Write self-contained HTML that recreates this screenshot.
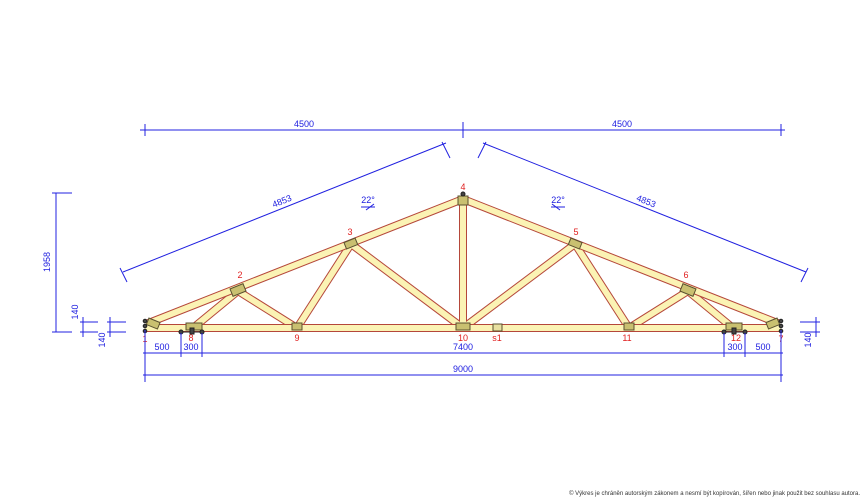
<!DOCTYPE html>
<html><head><meta charset="utf-8"><style>
html,body{margin:0;padding:0;background:#fff;}
svg{display:block;font-family:"Liberation Sans",sans-serif;}
</style></head><body>
<svg width="866" height="500" viewBox="0 0 866 500" xmlns="http://www.w3.org/2000/svg">
<g stroke-linecap="butt">
<g stroke="#b5473a" stroke-width="8">
<line x1="193" y1="328" x2="238" y2="291"/><line x1="238" y1="291" x2="297" y2="328"/>
<line x1="297" y1="328" x2="351" y2="244"/><line x1="351" y1="244" x2="463" y2="328"/>
<line x1="463" y1="200" x2="463" y2="328"/><line x1="463" y1="328" x2="575" y2="244"/>
<line x1="575" y1="244" x2="629" y2="328"/><line x1="629" y1="328" x2="688" y2="291"/>
<line x1="688" y1="291" x2="733" y2="328"/>
</g>
<g stroke="#fbf3b4" stroke-width="6">
<line x1="193" y1="328" x2="238" y2="291"/><line x1="238" y1="291" x2="297" y2="328"/>
<line x1="297" y1="328" x2="351" y2="244"/><line x1="351" y1="244" x2="463" y2="328"/>
<line x1="463" y1="200" x2="463" y2="328"/><line x1="463" y1="328" x2="575" y2="244"/>
<line x1="575" y1="244" x2="629" y2="328"/><line x1="629" y1="328" x2="688" y2="291"/>
<line x1="688" y1="291" x2="733" y2="328"/>
</g>
<g stroke="#b5473a" stroke-width="8">
<line x1="145" y1="328" x2="781" y2="328"/>
<polyline points="146,324 463,199 780,324" fill="none" stroke-linejoin="miter"/>
</g>
<g stroke="#fbf3b4" stroke-width="6">
<line x1="145" y1="328" x2="781" y2="328"/>
<polyline points="146,324 463,199 780,324" fill="none" stroke-linejoin="miter"/>
</g>
</g>
<!-- plates -->
<g fill="#c9c070" stroke="#5a5030" stroke-width="1">
<rect x="231" y="286" width="14" height="8" transform="rotate(-22 238 290)"/>
<rect x="345" y="240" width="12" height="7" transform="rotate(-22 351 244)"/>
<rect x="458" y="196" width="10" height="9"/>
<rect x="569" y="240" width="12" height="7" transform="rotate(22 575 244)"/>
<rect x="681" y="286" width="14" height="8" transform="rotate(22 688 290)"/>
<rect x="292" y="323" width="10" height="7"/>
<rect x="456" y="323" width="14" height="7"/>
<rect x="624" y="323" width="10" height="7"/>
<rect x="147" y="320" width="12" height="7" transform="rotate(22 153 324)"/>
<rect x="767" y="320" width="12" height="7" transform="rotate(-22 773 324)"/>
<rect x="186" y="323" width="16" height="7"/>
<rect x="726" y="323" width="16" height="7"/>
<rect x="493" y="324" width="9" height="7" fill="#e8e0a0"/>
</g>
<!-- supports -->
<g stroke="#222" fill="#444">
<line x1="181" y1="332" x2="202" y2="332"/><circle cx="181" cy="332" r="2"/><circle cx="202" cy="332" r="2"/>
<rect x="190" y="328" width="4" height="6"/>
<line x1="724" y1="332" x2="745" y2="332"/><circle cx="724" cy="332" r="2"/><circle cx="745" cy="332" r="2"/>
<rect x="732" y="328" width="4" height="6"/>
<circle cx="145" cy="321" r="1.8"/><circle cx="145" cy="326" r="1.8"/><circle cx="145" cy="331" r="1.8"/>
<circle cx="781" cy="321" r="1.8"/><circle cx="781" cy="326" r="1.8"/><circle cx="781" cy="331" r="1.8"/>
<circle cx="463" cy="194" r="2"/>
</g>
<!-- node labels -->
<g fill="#e02020" font-size="9" text-anchor="middle">
<text x="145" y="342">1</text><text x="240" y="278">2</text><text x="350" y="235">3</text>
<text x="463" y="190">4</text><text x="576" y="235">5</text><text x="686" y="278">6</text>
<text x="781" y="342">7</text><text x="191" y="341">8</text><text x="297" y="341">9</text>
<text x="463" y="341">10</text><text x="497" y="341">s1</text><text x="627" y="341">11</text><text x="736" y="341">12</text>
</g>
<!-- dimensions -->
<g stroke="#2020e0" stroke-width="1" fill="none">
<line x1="140" y1="130" x2="785" y2="130"/>
<line x1="145" y1="124" x2="145" y2="136"/><line x1="463" y1="122" x2="463" y2="138"/><line x1="781" y1="124" x2="781" y2="136"/>
<line x1="123" y1="272" x2="446" y2="143"/><line x1="442" y1="142" x2="450" y2="158"/><line x1="120" y1="268" x2="127" y2="282"/>
<line x1="483" y1="143" x2="806" y2="272"/><line x1="486" y1="142" x2="478" y2="158"/><line x1="808" y1="268" x2="801" y2="282"/>
<line x1="56" y1="193" x2="56" y2="332"/><line x1="52" y1="193" x2="72" y2="193"/><line x1="52" y1="332" x2="72" y2="332"/>
<line x1="80" y1="322" x2="98" y2="322"/><line x1="80" y1="332" x2="98" y2="332"/><line x1="83" y1="317" x2="83" y2="337"/>
<line x1="107" y1="322" x2="126" y2="322"/><line x1="107" y1="332" x2="126" y2="332"/><line x1="110" y1="317" x2="110" y2="337"/>
<line x1="800" y1="322" x2="820" y2="322"/><line x1="800" y1="332" x2="820" y2="332"/><line x1="816" y1="317" x2="816" y2="337"/>
<line x1="143" y1="353" x2="783" y2="353"/>
<line x1="145" y1="330" x2="145" y2="382"/><line x1="181" y1="333" x2="181" y2="357"/><line x1="202" y1="333" x2="202" y2="357"/>
<line x1="724" y1="333" x2="724" y2="357"/><line x1="745" y1="333" x2="745" y2="357"/><line x1="781" y1="330" x2="781" y2="382"/>
<line x1="143" y1="375" x2="783" y2="375"/>
<line x1="361" y1="207" x2="375" y2="207"/><line x1="366" y1="210" x2="374" y2="204"/>
<line x1="551" y1="207" x2="565" y2="207"/><line x1="552" y1="204" x2="560" y2="210"/>
</g>
<g fill="#2020e0" font-size="9" text-anchor="middle">
<text x="304" y="127">4500</text><text x="622" y="127">4500</text>
<text x="283" y="204" transform="rotate(-21.7 283 204)">4853</text>
<text x="645" y="204" transform="rotate(21.7 645 204)">4853</text>
<text x="368" y="203">22°</text><text x="558" y="203">22°</text>
<text x="50" y="262" transform="rotate(-90 50 262)">1958</text>
<text x="78" y="312" transform="rotate(-90 78 312)">140</text>
<text x="105" y="340" transform="rotate(-90 105 340)">140</text>
<text x="811" y="340" transform="rotate(-90 811 340)">140</text>
<text x="162" y="350">500</text><text x="191" y="350">300</text><text x="463" y="350">7400</text>
<text x="735" y="350">300</text><text x="763" y="350">500</text>
<text x="463" y="372">9000</text>
</g>
<text x="860" y="495" font-size="6" fill="#333" text-anchor="end">© Výkres je chráněn autorským zákonem a nesmí být kopírován, šířen nebo jinak použit bez souhlasu autora.</text>
</svg>
</body></html>
